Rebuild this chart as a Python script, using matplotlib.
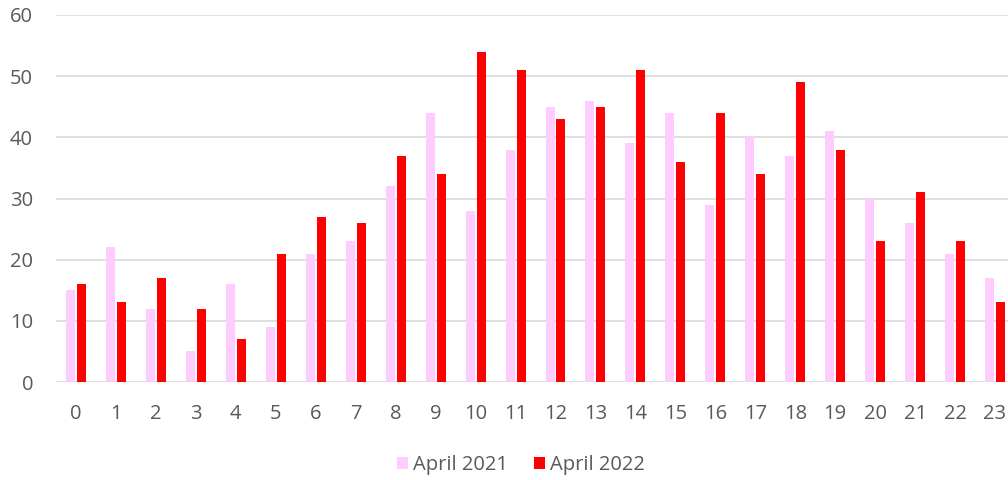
import matplotlib
matplotlib.use("Agg")
import matplotlib.pyplot as plt
import numpy as np

hours = [str(h) for h in range(24)]
april_2021 = [15, 22, 12, 5, 16, 9, 21, 23, 32, 44, 28, 38, 45, 46, 39, 44, 29, 40, 37, 41, 30, 26, 21, 17]
april_2022 = [16, 13, 17, 12, 7, 21, 27, 26, 37, 34, 54, 51, 43, 45, 51, 36, 44, 34, 49, 38, 23, 31, 23, 13]
y_ticks = [0, 10, 20, 30, 40, 50, 60]

plt.rcParams['font.family'] = ['Open Sans', 'DejaVu Sans']

fig = plt.figure(figsize=(10.08, 4.8), dpi=100)
ax = fig.add_axes([56/1008, 1-382/480, 24*39.96/1008, (382-15)/480])

x = np.arange(len(hours))
w = 0.225
off = 0.1375
ax.bar(x - off, april_2021, width=w, color='#FFCCFF', label='April 2021', zorder=3)
ax.bar(x + off, april_2022, width=w, color='#FF0000', label='April 2022', zorder=3)

ax.set_xlim(-0.5, 23.5)
ax.set_ylim(0, 60)
ax.set_yticks(y_ticks)
ax.set_xticks(x)
ax.set_xticklabels(hours)
ax.yaxis.grid(True, color='#D9D9D9', linewidth=1.2, zorder=0)
for s in ax.spines.values():
    s.set_visible(False)
ax.tick_params(axis='both', length=0, colors='#595959', labelsize=14.5)
ax.tick_params(axis='y', pad=16.5)
ax.tick_params(axis='x', pad=16)

leg = fig.legend(loc='center', bbox_to_anchor=(521/1008, 1-465/480), ncol=2, frameon=False,
                 fontsize=14.5, handlelength=0.55, handleheight=0.55, handletextpad=0.25, columnspacing=1.3)
for t in leg.get_texts():
    t.set_color('#595959')

fig.savefig('out.png', dpi=100)
